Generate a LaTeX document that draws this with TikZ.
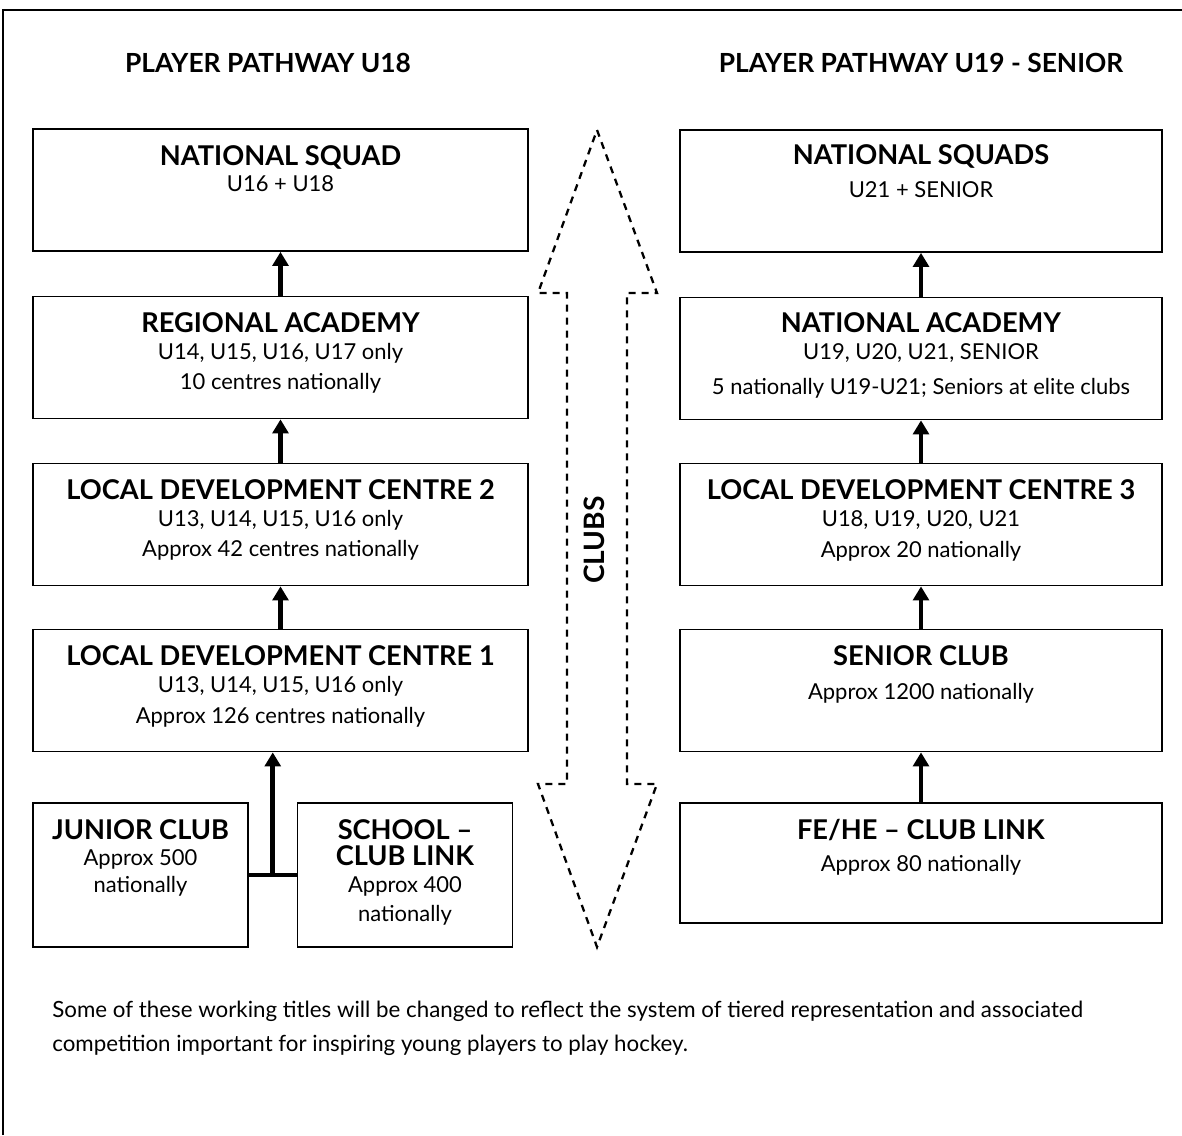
\documentclass[tikz,border=0pt]{standalone}
\usepackage{fontspec}
\setmainfont{Lato}
\usetikzlibrary{arrows.meta,positioning,calc}

\begin{document}
\begin{tikzpicture}[x=0.02cm, y=-0.02cm,
  stage/.style={draw, line width=1pt, minimum width=9.9cm, minimum height=2.44cm},
  stager/.style={stage, minimum width=9.64cm},
  small/.style={draw, line width=1pt, minimum width=4.3cm, minimum height=2.88cm},
  words/.style={anchor=north, inner sep=0pt, align=center, font=\fontsize{12.5}{15}\selectfont},
  up/.style={-{Triangle[width=9pt,length=8pt]}, line width=2.8pt}]
  \useasboundingbox (0,0) rectangle (1182,1135);
  % page frame
  \draw[line width=1.1pt] (3,1135) -- (3,10) -- (1182,10);

  % headings
  \node[font=\bfseries\fontsize{15}{16}\selectfont] (headl) at (268,63) {PLAYER PATHWAY U18};
  \node[font=\bfseries\fontsize{15}{16}\selectfont] (headr) at (921,63) {PLAYER PATHWAY U19 - SENIOR};

  % left pathway
  \node[stage] (nsq) at (280.5,190) {};
  \node[stage] (ra) at (280.5,357.5) {};
  \node[stage] (ldc2) at (280.5,524.5) {};
  \node[stage] (ldc1) at (280.5,690.5) {};
  \node[small] (junior) at (140.5,875) {};
  \node[small] (school) at (405,875) {};

  \node[words] (nsqt) at ([yshift=-0.34cm]nsq.north) {\textbf{\fontsize{15.5}{15}\selectfont NATIONAL SQUAD}\\U16 + U18};
  \node[words] (rat) at ([yshift=-0.34cm]ra.north) {\textbf{\fontsize{15.5}{15}\selectfont REGIONAL ACADEMY}\\U14, U15, U16, U17 only\\[2pt]10 centres nationally};
  \node[words] (ldc2t) at ([yshift=-0.34cm]ldc2.north) {\textbf{\fontsize{15.5}{15}\selectfont LOCAL DEVELOPMENT CENTRE 2}\\U13, U14, U15, U16 only\\[2pt]Approx 42 centres nationally};
  \node[words] (ldc1t) at ([yshift=-0.34cm]ldc1.north) {\textbf{\fontsize{15.5}{15}\selectfont LOCAL DEVELOPMENT CENTRE 1}\\U13, U14, U15, U16 only\\[3pt]Approx 126 centres nationally};
  \node[words] (juniort) at ([yshift=-0.34cm]junior.north) {\textbf{\fontsize{15.5}{15}\selectfont JUNIOR CLUB}\\Approx 500\\nationally};
  \node[words] (schoolt) at ([yshift=-0.34cm]school.north) {\textbf{\fontsize{15.5}{15}\selectfont SCHOOL –}\\\textbf{\fontsize{15.5}{15}\selectfont CLUB LINK}\\Approx 400\\[2pt]nationally};

  \draw[up] (ra.north) -- (nsq.south);
  \draw[up] (ldc2.north) -- (ra.south);
  \draw[up] (ldc1.north) -- (ldc2.south);
  \draw[line width=2.8pt] (junior.east) -- (school.west);
  \coordinate (jn) at ($(junior.east)!0.5!(school.west)$);
  \draw[up] (jn) -- (jn |- ldc1.south);

  % right pathway
  \node[stager] (nsqs) at (921,191) {};
  \node[stager] (na) at (921,358.5) {};
  \node[stager] (ldc3) at (921,524.5) {};
  \node[stager] (senior) at (921,690.5) {};
  \node[stager, minimum height=2.4cm] (fehe) at (921,863) {};

  \node[words] (nsqst) at ([yshift=-0.3cm]nsqs.north) {\textbf{\fontsize{15.5}{15}\selectfont NATIONAL SQUADS}\\[4pt]U21 + SENIOR};
  \node[words] (nat) at ([yshift=-0.32cm]na.north) {\textbf{\fontsize{15.5}{15}\selectfont NATIONAL ACADEMY}\\U19, U20, U21, SENIOR\\[5pt]5 nationally U19-U21; Seniors at elite clubs};
  \node[words] (ldc3t) at ([yshift=-0.34cm]ldc3.north) {\textbf{\fontsize{15.5}{15}\selectfont LOCAL DEVELOPMENT CENTRE 3}\\U18, U19, U20, U21\\[3pt]Approx 20 nationally};
  \node[words] (seniort) at ([yshift=-0.34cm]senior.north) {\textbf{\fontsize{15.5}{15}\selectfont SENIOR CLUB}\\[4pt]Approx 1200 nationally};
  \node[words] (fehet) at ([yshift=-0.34cm]fehe.north) {\textbf{\fontsize{15.5}{15}\selectfont FE/HE – CLUB LINK}\\[3pt]Approx 80 nationally};

  \draw[up] (na.north) -- (nsqs.south);
  \draw[up] (ldc3.north) -- (na.south);
  \draw[up] (senior.north) -- (ldc3.south);
  \draw[up] (fehe.north) -- (senior.south);

  % clubs double arrow
  \draw[line width=1.3pt, dash pattern=on 4pt off 3.4pt]
    (597,130) -- (657,293) -- (627,293) -- (627,784) -- (657,784) -- (597,947)
    -- (538,784) -- (567,784) -- (567,293) -- (538,293) -- cycle;
  \node[rotate=90, font=\bfseries\fontsize{16}{16}\selectfont] (clubs) at (594,540) {CLUBS};

  % note
  \node[anchor=north west, inner sep=0pt, align=left, font=\fontsize{12.7}{19.4}\selectfont] (note) at (52,1001)
    {Some of these working titles will be changed to reflect the system of tiered representation and associated\\competition important for inspiring young players to play hockey.};
\end{tikzpicture}
\end{document}
